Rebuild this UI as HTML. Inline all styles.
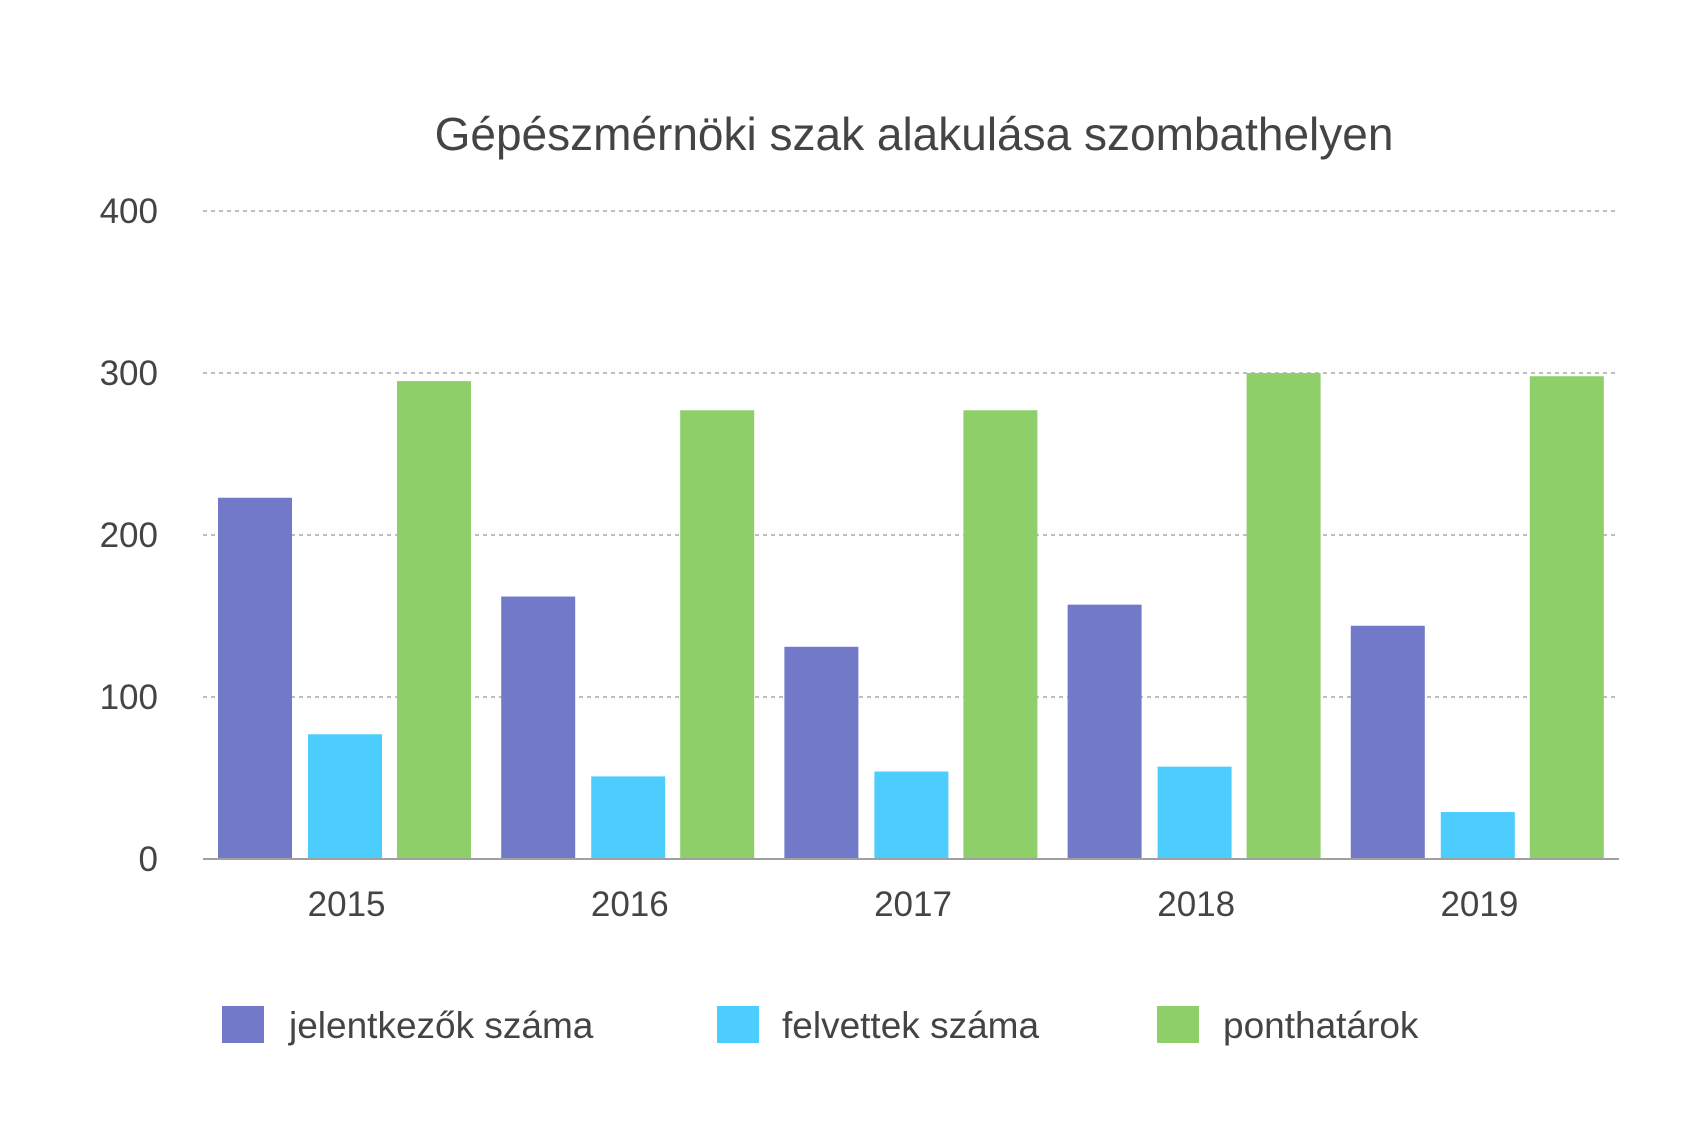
<!DOCTYPE html>
<html><head><meta charset="utf-8"><style>
body{margin:0;background:#fff;width:1699px;height:1133px;overflow:hidden;font-family:"Liberation Sans",sans-serif}
</style></head><body>
<svg id="chart" width="1699" height="1133">
<text x="914" y="150" text-anchor="middle" font-size="46" fill="#444">Gépészmérnöki szak alakulása szombathelyen</text>
<g id="grid"></g><g id="bars"></g><g id="xlabels"></g>
<line x1="203" x2="1619" y1="859" y2="859" stroke="#a0a0a0" stroke-width="2"/>
<g>
<rect x="222" y="1006" width="42" height="37" fill="#7279c8"/>
<text x="289" y="1038" font-size="37" fill="#444">jelentkezők száma</text>
<rect x="717" y="1006" width="42" height="37" fill="#4dcdfd"/>
<text x="782" y="1038" font-size="37" fill="#444">felvettek száma</text>
<rect x="1157" y="1006" width="42" height="37" fill="#8ecf69"/>
<text x="1223" y="1038" font-size="37" fill="#444">ponthatárok</text>
</g>
</svg>
<script>
const categories=["2015","2016","2017","2018","2019"];
const jelentkezok=[223,162,131,157,144];
const felvettek=[77,51,54,57,29];
const ponthatarok=[295,277,277,300,298];
const yTicks=[0,100,200,300,400];
const NS="http://www.w3.org/2000/svg";
const x0=203,x1=1619,y0=859,yTop=211,yMax=400;
const y=v=>y0-(v/yMax)*(y0-yTop);
const gw=(x1-x0)/categories.length;
const grid=document.getElementById('grid'),bars=document.getElementById('bars'),xl=document.getElementById('xlabels');
yTicks.forEach(t=>{
  if(t>0){const l=document.createElementNS(NS,'line');
  l.setAttribute('x1',x0);l.setAttribute('x2',x1);l.setAttribute('y1',y(t));l.setAttribute('y2',y(t));
  l.setAttribute('stroke','#a8a8a8');l.setAttribute('stroke-width','1.5');l.setAttribute('stroke-dasharray','4 4');
  
  
  grid.appendChild(l);}
  const tx=document.createElementNS(NS,'text');
  tx.setAttribute('x',158);tx.setAttribute('y',y(t)+12);tx.setAttribute('text-anchor','end');
  tx.setAttribute('font-size','35');tx.setAttribute('fill','#444');tx.textContent=t;
  
  
  grid.appendChild(tx);
});
const series=[[jelentkezok,'#7279c8',15],[felvettek,'#4dcdfd',105],[ponthatarok,'#8ecf69',194]];
categories.forEach((c,i)=>{
  const gx=x0+i*gw;
  series.forEach(([vals,col,off])=>{
    const r=document.createElementNS(NS,'rect');
    r.setAttribute('x',gx+off);r.setAttribute('width',74);
    r.setAttribute('y',y(vals[i]));r.setAttribute('height',y0-y(vals[i]));r.setAttribute('fill',col);
    
    
    bars.appendChild(r);
  });
  const t=document.createElementNS(NS,'text');
  t.setAttribute('x',gx+gw/2+2);t.setAttribute('y',916);t.setAttribute('text-anchor','middle');
  t.setAttribute('font-size','35');t.setAttribute('fill','#444');t.textContent=c;
  
  
  xl.appendChild(t);
});
</script>
</body></html>
